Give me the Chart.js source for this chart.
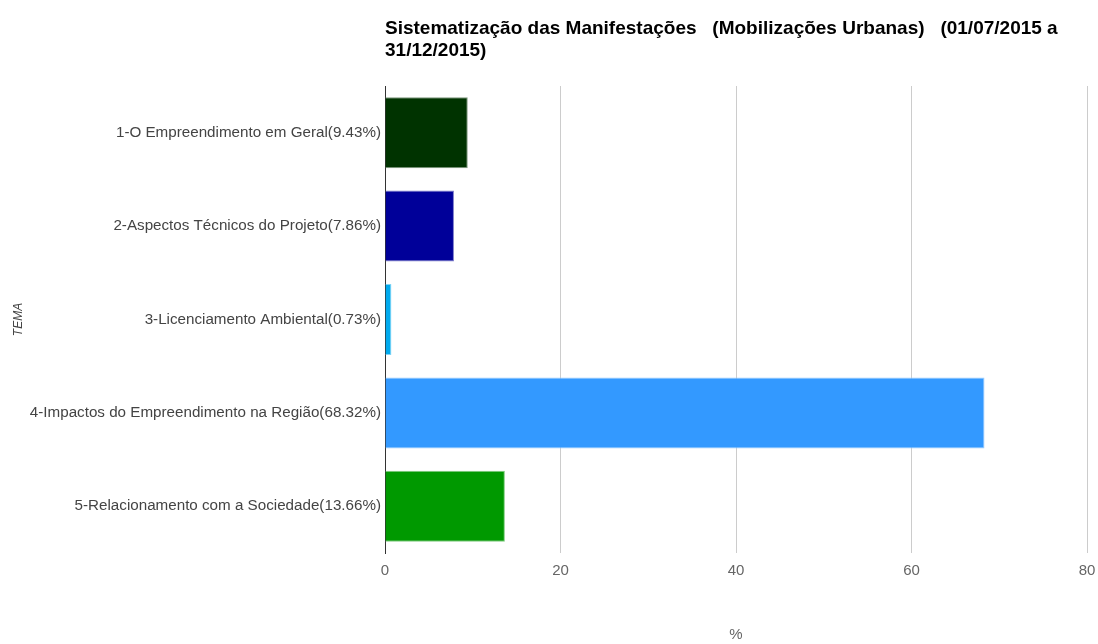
<!DOCTYPE html>
<html>
<head>
<meta charset="utf-8">
<script src="https://cdn.jsdelivr.net/npm/chart.js@4/dist/chart.umd.min.js"></script>
<style>
  html, body { margin: 0; padding: 0; background: #fff; }
  #wrap { width: 1098px; height: 644px; }
</style>
</head>
<body>
<div id="wrap"><canvas id="temaChart" width="1098" height="644"></canvas></div>
<script>
const categories = [
  "1-O Empreendimento em Geral(9.43%)",
  "2-Aspectos Técnicos do Projeto(7.86%)",
  "3-Licenciamento Ambiental(0.73%)",
  "4-Impactos do Empreendimento na Região(68.32%)",
  "5-Relacionamento com a Sociedade(13.66%)"
];
const percentages = [9.43, 7.86, 0.73, 68.32, 13.66];
const xTicks = [0, 20, 40, 60, 80];
const titleLines = [
  "Sistematização das Manifestações   (Mobilizações Urbanas)   (01/07/2015 a",
  "31/12/2015)"
];

const barColors = ["#003300", "#000099", "#00aaee", "#3399ff", "#009900"];
const barBorders = ["#7f997f", "#7f7fcc", "#7fd4f6", "#99ccff", "#7fcc7f"];

// draws the title left-aligned with the plot area, like the original
const titlePlugin = {
  id: "leftTitle",
  afterDraw(chart) {
    const ctx = chart.ctx;
    ctx.save();
    ctx.font = "bold 19px 'Liberation Sans', Arial, sans-serif";
    ctx.fillStyle = "#000";
    ctx.textBaseline = "middle";
    ctx.textAlign = "left";
    titleLines.forEach((line, i) => {
      ctx.fillText(line, chart.chartArea.left, 29 + i * 22);
    });
    ctx.restore();
  }
};

const ctx = document.getElementById("temaChart").getContext("2d");

new Chart(ctx, {
  type: "bar",
  data: {
    labels: categories,
    datasets: [
      {
        data: percentages,
        backgroundColor: barColors,
        borderColor: barBorders,
        borderWidth: 1,
        categoryPercentage: 1,
        barPercentage: 0.76,
      },
    ],
  },
  plugins: [titlePlugin],
  options: {
    indexAxis: "y",
    responsive: false,
    animation: false,
    layout: { padding: { top: 86, right: 11, left: 0, bottom: 0 } },
    scales: {
      x: {
        min: 0,
        max: 80,
        afterBuildTicks: (scale) => {
          scale.ticks = xTicks.map((v) => ({ value: v }));
        },
        afterFit: (scale) => {
          scale.height = 91;
          // let the "80" label hang past the plot edge
          scale.paddingRight = 0;
          scale.paddingLeft = 0;
        },
        grid: {
          color: (c) => (c.tick && c.tick.value === 0 ? "#333" : "#cccccc"),
          drawTicks: false,
        },
        border: { display: false },
        ticks: {
          padding: 9,
          color: "#666",
          font: { family: "'Liberation Sans', Arial, sans-serif", size: 15 },
        },
        title: {
          display: true,
          text: "%",
          color: "#666",
          padding: { top: 0, bottom: 0 },
          font: { family: "'Liberation Sans', Arial, sans-serif", size: 15 },
        },
      },
      y: {
        afterFit: (scale) => {
          scale.width = 385;
        },
        grid: { display: false, drawTicks: false },
        border: { display: true, color: "#333", width: 1 },
        ticks: {
          padding: 4,
          color: "#444",
          font: { family: "'Liberation Sans', Arial, sans-serif", size: 15.2 },
        },
        title: {
          display: true,
          text: "TEMA",
          color: "#444",
          padding: { top: 11, bottom: 0 },
          font: { family: "'Liberation Sans', Arial, sans-serif", size: 12, style: "italic" },
        },
      },
    },
    plugins: {
      legend: { display: false },
      title: { display: false },
      tooltip: { enabled: false },
    },
  },
});
</script>
</body>
</html>
